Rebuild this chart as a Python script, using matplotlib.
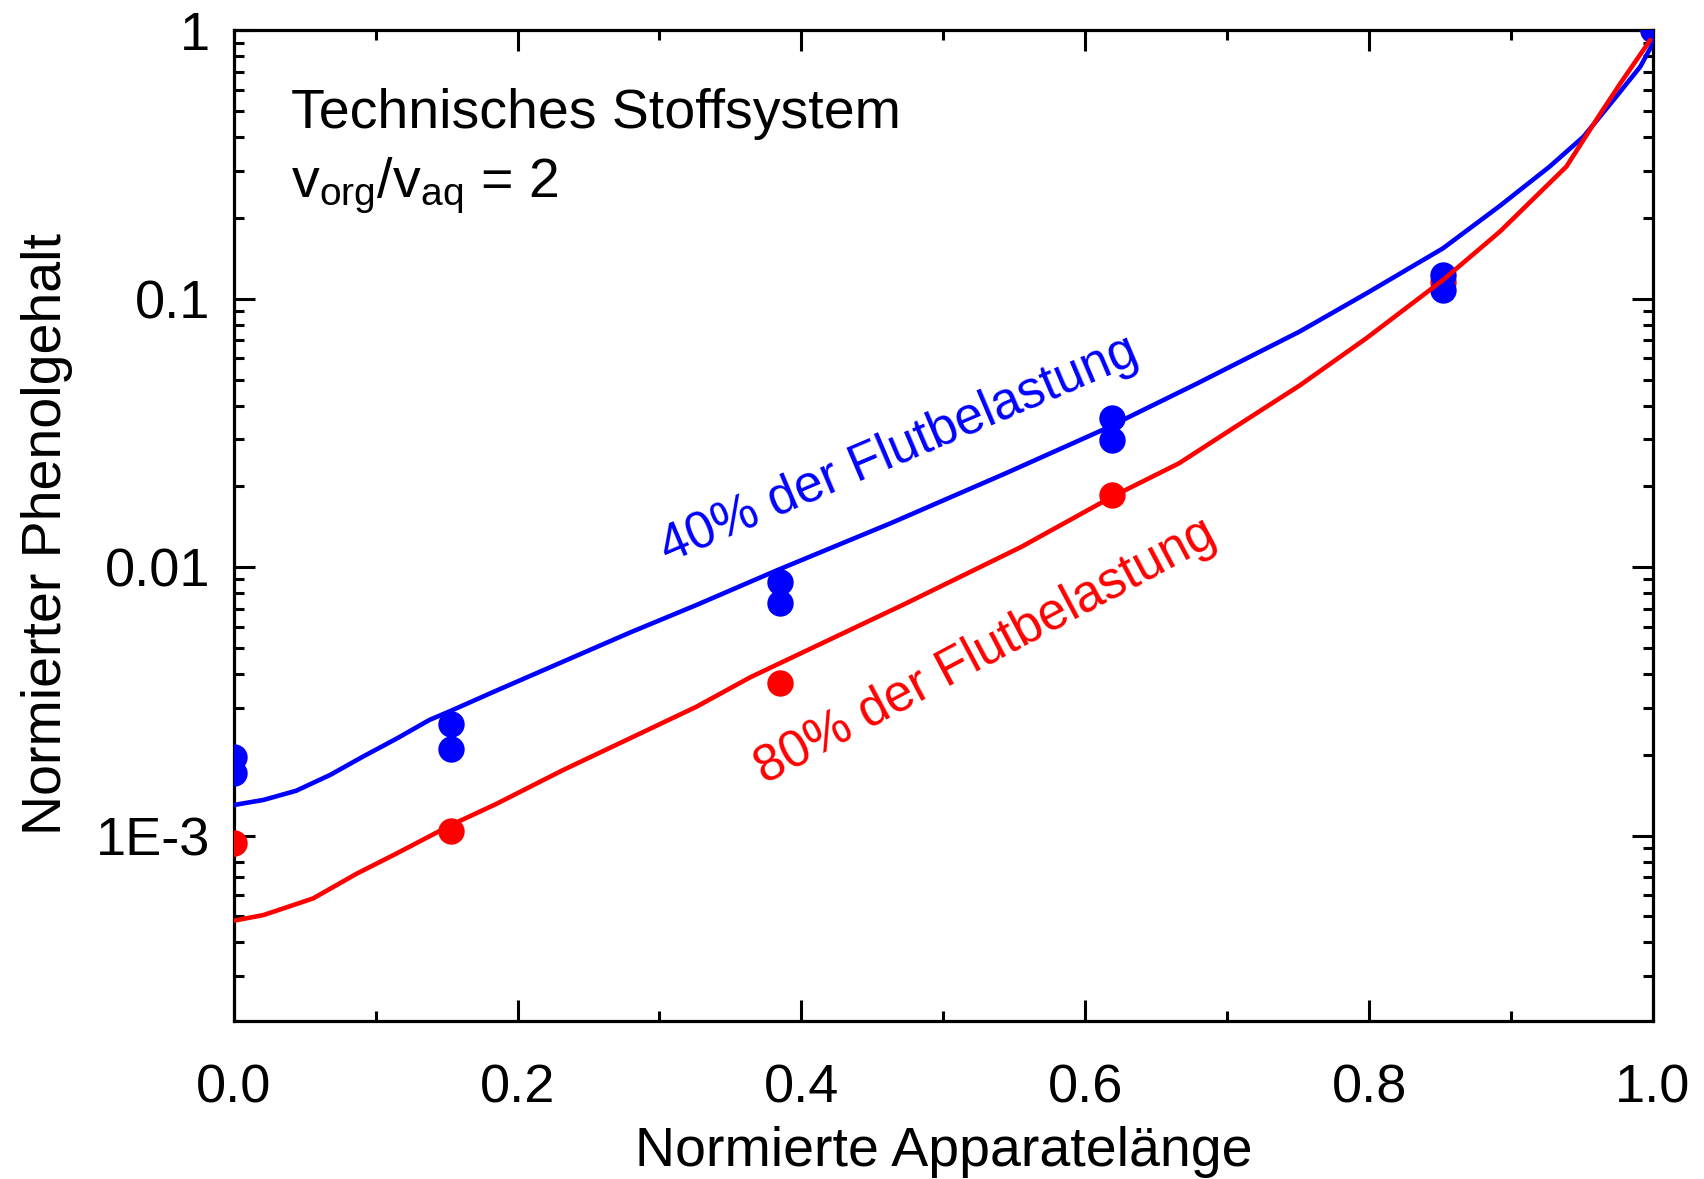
import matplotlib
matplotlib.use("Agg")
import matplotlib.pyplot as plt
from matplotlib.ticker import FixedLocator, FixedFormatter, NullFormatter

plt.rcParams['font.family'] = ['Liberation Sans', 'DejaVu Sans']
plt.rcParams['mathtext.fontset'] = 'custom'
plt.rcParams['mathtext.rm'] = 'Liberation Sans'
plt.rcParams['mathtext.it'] = 'Liberation Sans'

BLUE = '#0000FF'
RED = '#FF0000'

# Measured phenol content along the column (40 % and 80 % of flooding load)
meas40_x = [0.0, 0.0, 0.153, 0.153, 0.385, 0.385, 0.619, 0.619, 0.852, 0.852, 1.0]
meas40_y = [1.97e-3, 1.71e-3, 2.61e-3, 2.11e-3, 8.83e-3, 7.33e-3, 0.0359, 0.0298, 0.1225, 0.108, 1.0]

meas80_x = [0.0, 0.153, 0.385, 0.619, 0.852, 1.0]
meas80_y = [9.36e-4, 1.04e-3, 3.69e-3, 0.0186, 0.116, 1.0]

# Simulated profiles
sim40_x = [0.0, 0.021, 0.044, 0.068, 0.091, 0.115, 0.138, 0.153, 0.185, 0.232, 0.279,
           0.326, 0.383, 0.463, 0.544, 0.612, 0.679, 0.751, 0.798, 0.852, 0.892, 0.927,
           0.951, 0.974, 0.991, 1.0]
sim40_y = [1.300e-3, 1.358e-3, 1.469e-3, 1.683e-3, 1.968e-3, 2.301e-3, 2.698e-3, 2.917e-3,
           3.467e-3, 4.446e-3, 5.702e-3, 7.228e-3, 9.750e-3, 0.01459, 0.02239, 0.03243,
           0.04842, 0.07551, 0.1047, 0.1542, 0.2218, 0.3105, 0.4018, 0.5662, 0.7328, 0.8954]

sim80_x = [0.0, 0.021, 0.056, 0.087, 0.115, 0.153, 0.185, 0.232, 0.279, 0.326, 0.364,
           0.474, 0.555, 0.619, 0.666, 0.706, 0.751, 0.798, 0.852, 0.892, 0.939, 0.963,
           0.977, 0.998]
sim80_y = [4.819e-4, 5.058e-4, 5.834e-4, 7.228e-4, 8.590e-4, 1.094e-3, 1.312e-3, 1.754e-3,
           2.301e-3, 3.020e-3, 3.890e-3, 7.345e-3, 0.01191, 0.01832, 0.02438, 0.03342,
           0.04753, 0.07129, 0.1175, 0.1778, 0.3112, 0.4909, 0.6353, 0.9204]

x_major = [0.0, 0.2, 0.4, 0.6, 0.8, 1.0]
x_major_labels = ['0.0', '0.2', '0.4', '0.6', '0.8', '1.0']
x_minor = [0.1, 0.3, 0.5, 0.7, 0.9]
y_major = [1e-3, 1e-2, 1e-1, 1.0]
y_major_labels = ['1E-3', '0.01', '0.1', '1']
y_minor = [m * 10.0 ** e for e in (-4, -3, -2, -1) for m in range(2, 10)]

FS_TICK = 39
FS_TEXT = 40
FS_CURVE = 37

fig = plt.figure(figsize=(17.04, 11.79), dpi=100)
ax = fig.add_axes([0.1371, 0.1336, 0.8330, 0.8406])

ax.plot(meas80_x, meas80_y, 'o', color=RED, markersize=19, markeredgewidth=0, zorder=3)
ax.plot(meas40_x, meas40_y, 'o', color=BLUE, markersize=19, markeredgewidth=0, zorder=4)
ax.plot(sim40_x, sim40_y, '-', color=BLUE, lw=3.3, solid_joinstyle='round',
        solid_capstyle='round', zorder=5)
ax.plot(sim80_x, sim80_y, '-', color=RED, lw=3.3, solid_joinstyle='round',
        solid_capstyle='round', zorder=6)

ax.set_yscale('log')
ax.set_xlim(0, 1)
ax.set_ylim(2.03e-4, 1)

ax.xaxis.set_major_locator(FixedLocator(x_major))
ax.xaxis.set_major_formatter(FixedFormatter(x_major_labels))
ax.xaxis.set_minor_locator(FixedLocator(x_minor))
ax.yaxis.set_major_locator(FixedLocator(y_major))
ax.yaxis.set_major_formatter(FixedFormatter(y_major_labels))
ax.yaxis.set_minor_locator(FixedLocator(y_minor))
ax.yaxis.set_minor_formatter(NullFormatter())

for s in ax.spines.values():
    s.set_linewidth(2.3)

ax.tick_params(which='both', direction='in', top=True, right=True, width=2.2)
ax.tick_params(which='major', length=15)
ax.tick_params(which='minor', length=7.5)
ax.tick_params(axis='x', which='major', labelsize=FS_TICK, pad=30)
ax.tick_params(axis='y', which='major', labelsize=FS_TICK, pad=17)

ax.set_xlabel('Normierte Apparatelänge', fontsize=FS_TEXT)
ax.set_ylabel('Normierter Phenolgehalt', fontsize=FS_TEXT)
ax.xaxis.set_label_coords(0.5, -0.105)
ax.yaxis.set_label_coords(-0.113, 0.492)

ax.text(0.0404, 0.9015, 'Technisches Stoffsystem', transform=ax.transAxes,
        fontsize=FS_TEXT, ha='left', va='baseline')
ax.text(0.0404, 0.8319, r'v$_{\mathrm{org}}$/v$_{\mathrm{aq}}$ = 2', transform=ax.transAxes,
        fontsize=FS_TEXT, ha='left', va='baseline')

ax.text(0.3058, 0.0104, '40% der Flutbelastung', color=BLUE, fontsize=FS_CURVE,
        rotation=23, rotation_mode='anchor', ha='left', va='baseline')
ax.text(0.374, 1.55e-3, '80% der Flutbelastung', color=RED, fontsize=FS_CURVE,
        rotation=28, rotation_mode='anchor', ha='left', va='baseline')

fig.savefig('out.png', dpi=100)
